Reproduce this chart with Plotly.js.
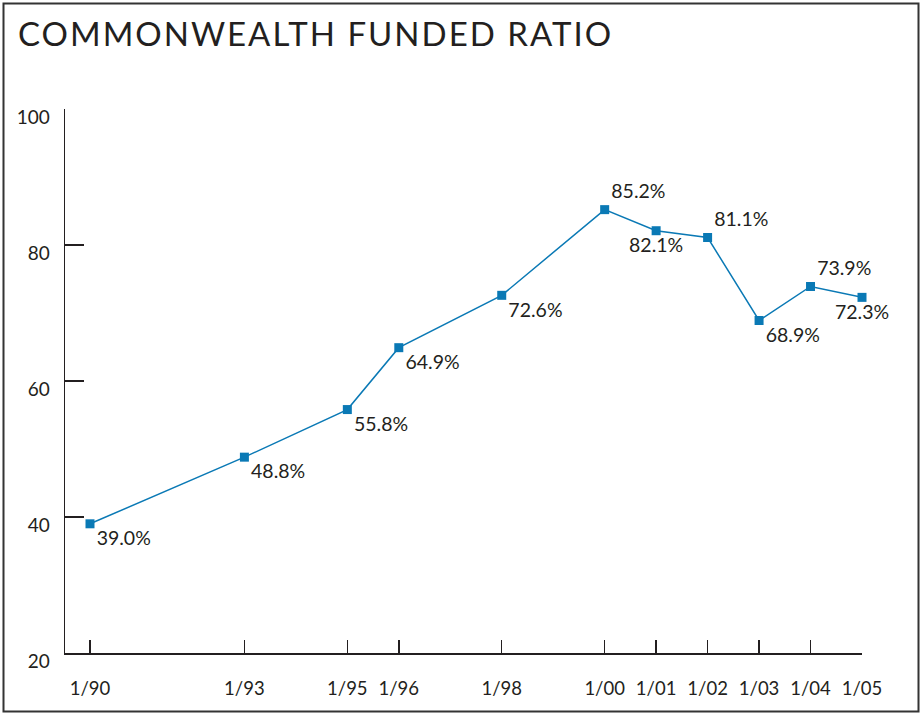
<!DOCTYPE html>
<html>
<head>
<meta charset="utf-8">
<script src="https://cdn.plot.ly/plotly-3.0.1.min.js"></script>
<style>html,body{margin:0;padding:0;background:#fff;}#chart{width:921px;height:713px;}
.gtitle{letter-spacing:2px;}</style>
</head>
<body>
<div id="chart"></div>
<script>
// Data
var years = [1990, 1993, 1995, 1996, 1998, 2000, 2001, 2002, 2003, 2004, 2005];
var tickLabels = ["1/90", "1/93", "1/95", "1/96", "1/98", "1/00", "1/01", "1/02", "1/03", "1/04", "1/05"];
var ratios = [39.0, 48.8, 55.8, 64.9, 72.6, 85.2, 82.1, 81.1, 68.9, 73.9, 72.3];
var labelPos = ["bottom right", "bottom right", "bottom right", "bottom right", "bottom right",
                "top right", "bottom center", "top right", "bottom right", "top right", "bottom center"];

var W = 921, H = 713, L = 65, R = 59, T = 109, B = 60;
var pw = W - L - R, ph = H - T - B;
function px(x) { return (x - L) / pw; }
function py(y) { return (H - B - y) / ph; }

var font = "Lato, 'Open Sans', sans-serif";
var ink = "#231f20";
var blue = "#0a79b5";

var trace = {
  x: years,
  y: ratios,
  type: "scatter",
  mode: "lines+markers+text",
  line: {color: blue, width: 1.5},
  marker: {symbol: "square", size: 9, color: blue},
  text: ratios.map(function (v) { return v.toFixed(1) + "%"; }),
  textposition: labelPos,
  textfont: {family: font, size: 19.5, color: ink},
  cliponaxis: false,
  hoverinfo: "skip"
};

var layout = {
  width: W, height: H,
  margin: {l: L, r: R, t: T, b: B},
  paper_bgcolor: "#fff",
  plot_bgcolor: "#fff",
  showlegend: false,
  title: {
    text: "COMMONWEALTH FUNDED RATIO",
    font: {family: font, size: 33, color: ink, weight: 400},
    x: 18 / W, xanchor: "left",
    y: 1 - 34 / H, yanchor: "middle"
  },
  xaxis: {
    range: [1990 - 25 / 51.47, 2005],
    tickmode: "array",
    tickvals: years,
    ticktext: tickLabels,
    ticks: "inside",
    ticklen: 13,
    tickwidth: 1.5,
    tickcolor: ink,
    showline: true,
    linecolor: ink,
    linewidth: 1.5,
    showgrid: false,
    zeroline: false,
    ticklabelstandoff: 18,
    tickfont: {family: font, size: 18.5, color: ink},
    fixedrange: true
  },
  yaxis: {
    range: [20, 100],
    tickvals: [20, 40, 60, 80, 100],
    ticks: "inside",
    ticklen: 19,
    tickwidth: 1.5,
    tickcolor: ink,
    showline: true,
    linecolor: ink,
    linewidth: 1.5,
    showgrid: false,
    zeroline: false,
    ticklabelstandoff: 10,
    ticklabelshift: 8,
    tickfont: {family: font, size: 19, color: ink},
    fixedrange: true
  },
  shapes: [
    {type: "rect", xref: "paper", yref: "paper",
     x0: px(3.5), x1: px(918.5), y0: py(711.5), y1: py(3.5),
     line: {color: "#333", width: 2}, layer: "below"}
  ]
};

Plotly.newPlot("chart", [trace], layout, {displayModeBar: false, staticPlot: true});
</script>
</body>
</html>
